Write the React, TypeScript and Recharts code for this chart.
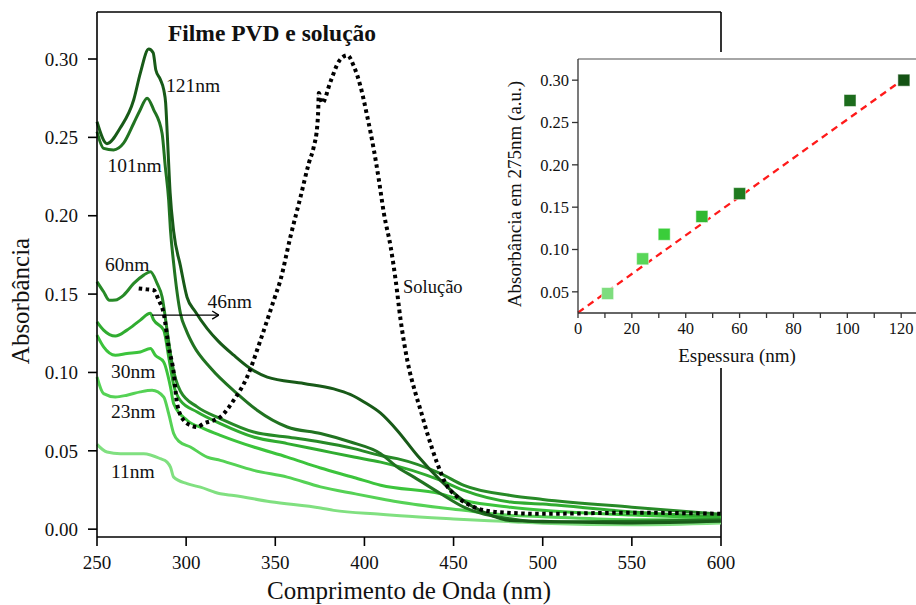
import React from "react"
import {
  LineChart,
  Line,
  XAxis,
  YAxis,
  ReferenceLine,
  ComposedChart,
  Scatter,
} from "recharts"

// wavelength (nm) / absorbance for each film thickness
const wl121 = [250, 255.6, 263, 270.6, 274.3, 279, 281.5, 283, 285.5, 287.5, 288.5, 289.5, 291, 293, 296.8, 300.5, 305, 311.8, 318, 326.7, 336, 345.5, 366, 382.8, 392, 400, 409.1, 418.4, 429.7, 442.8, 455.8, 469, 482, 500, 550, 600]
const abs121 = [0.26, 0.246, 0.256, 0.274, 0.291, 0.3064, 0.304, 0.293, 0.287, 0.28, 0.272, 0.25, 0.215, 0.19, 0.168, 0.148, 0.139, 0.128, 0.12, 0.111, 0.1025, 0.097, 0.093, 0.0895, 0.086, 0.081, 0.074, 0.063, 0.047, 0.031, 0.018, 0.0098, 0.0055, 0.005, 0.004, 0.005]

const wl101 = [250, 253.7, 259.3, 264.9, 270.6, 274, 278.1, 281.8, 286.5, 288.3, 290.2, 291.2, 293, 296.8, 300, 304.2, 313.6, 328.6, 339.8, 356.7, 375.4, 392.2, 409.1, 418.4, 427.8, 442.8, 455.8, 482, 500, 550, 600]
const abs101 = [0.2537, 0.243, 0.242, 0.2463, 0.259, 0.267, 0.275, 0.2676, 0.2527, 0.2314, 0.21, 0.191, 0.1696, 0.1377, 0.127, 0.117, 0.103, 0.0865, 0.0759, 0.0652, 0.061, 0.0556, 0.0482, 0.0396, 0.0332, 0.0226, 0.014, 0.0066, 0.0045, 0.005, 0.006]

const wl60 = [250, 253.7, 257, 260.3, 265, 270.6, 276.2, 280, 283.7, 286.5, 289.3, 292.1, 296.8, 306.2, 319.2, 337.9, 356.7, 375.4, 394.1, 409.1, 418.4, 442.8, 455.8, 482, 500, 550, 600]
const abs60 = [0.1579, 0.1515, 0.146, 0.1462, 0.1494, 0.1568, 0.1621, 0.1643, 0.1568, 0.1483, 0.127, 0.1057, 0.088, 0.078, 0.0706, 0.062, 0.0588, 0.0556, 0.0514, 0.047, 0.045, 0.0354, 0.0279, 0.0215, 0.019, 0.014, 0.0095]

const wl46 = [250, 253.7, 260.3, 266.8, 274.3, 279.9, 281.8, 287.4, 290.2, 293, 296.8, 306.2, 319.2, 337.9, 356.7, 375.4, 394.1, 409.1, 442.8, 455.8, 482, 500, 550, 600]
const abs46 = [0.1323, 0.127, 0.1232, 0.127, 0.1334, 0.1377, 0.1334, 0.127, 0.11, 0.092, 0.082, 0.0748, 0.0674, 0.0588, 0.0546, 0.0503, 0.046, 0.0428, 0.0311, 0.0247, 0.0173, 0.016, 0.011, 0.008]

const wl30 = [250, 253.7, 260.3, 266.8, 274.3, 280, 282.7, 287.4, 291.2, 293, 300.5, 309.9, 319.2, 337.9, 356.7, 375.4, 394.1, 409.1, 442.8, 455.8, 482, 500, 550, 600]
const abs30 = [0.1238, 0.1163, 0.111, 0.1121, 0.1131, 0.1153, 0.111, 0.1067, 0.0908, 0.0801, 0.0695, 0.0642, 0.0599, 0.0524, 0.046, 0.039, 0.033, 0.028, 0.0225, 0.0183, 0.014, 0.012, 0.009, 0.007]

const wl23 = [250, 253.7, 260.3, 266.8, 274.3, 280.9, 287.4, 290.2, 293, 296, 302.4, 311.8, 319.2, 337.9, 356.7, 375.4, 395, 409.1, 418.4, 455.8, 482, 500, 550, 600]
const abs23 = [0.0971, 0.0865, 0.0844, 0.0855, 0.0876, 0.0886, 0.0844, 0.0737, 0.061, 0.056, 0.0524, 0.046, 0.0439, 0.0375, 0.0332, 0.027, 0.0225, 0.0194, 0.0175, 0.012, 0.0088, 0.008, 0.006, 0.006]

const wl11 = [250, 255.6, 263.1, 276.2, 285.5, 289.3, 291.2, 293, 300.5, 308, 319.2, 326.7, 347.3, 375.4, 382.8, 409, 420, 450, 482, 500, 550, 600]
const abs11 = [0.0541, 0.0492, 0.0482, 0.0482, 0.045, 0.0428, 0.0396, 0.0332, 0.029, 0.0268, 0.0226, 0.0215, 0.0175, 0.0135, 0.012, 0.0095, 0.0085, 0.0065, 0.0048, 0.0038, 0.0028, 0.004]

const wlSol = [273.4, 278, 281.8, 284.6, 287.4, 290.2, 293, 294.9, 298.6, 302.4, 306.1, 309.9, 319.2, 326.7, 334.2, 341.7, 349.2, 352.9, 358.5, 364.2, 368.8, 371.6, 373.5, 374.1, 374.4, 376.3, 381, 385.7, 390.4, 394.1, 397.8, 401.6, 405.3, 408.1, 410.9, 414.7, 417.5, 420.3, 424, 428.7, 431.5, 435.3, 440.9, 445.6, 452.1, 461.5, 474.6, 500, 550, 600]
const absSol = [0.1536, 0.153, 0.1525, 0.1462, 0.1377, 0.1163, 0.1, 0.0801, 0.0695, 0.0663, 0.0652, 0.0674, 0.0716, 0.0823, 0.0971, 0.1206, 0.1462, 0.159, 0.1866, 0.2122, 0.2335, 0.2441, 0.2569, 0.2676, 0.2783, 0.2719, 0.2857, 0.2985, 0.3024, 0.2953, 0.2825, 0.2633, 0.242, 0.2229, 0.2016, 0.1802, 0.159, 0.1334, 0.108, 0.0865, 0.0759, 0.061, 0.0418, 0.029, 0.0205, 0.0141, 0.0109, 0.0098, 0.0105, 0.0098]

const xTicks = [250, 300, 350, 400, 450, 500, 550, 600]
const yTicks = [0, 0.05, 0.1, 0.15, 0.2, 0.25, 0.3]

// inset: absorbance at 275 nm vs film thickness
const thickness = [11, 24, 32, 46, 60, 101, 121]
const abs275 = [0.048, 0.089, 0.118, 0.139, 0.166, 0.276, 0.3]
const pointColors = ["#7edd7e", "#58d658", "#3acd3a", "#30b830", "#1f7a1f", "#1c6c1c", "#145214"]
const fitX = [0, 121]
const fitY = [0.0255, 0.3015]
const insetXTicks = [0, 10, 20, 30, 40, 50, 60, 70, 80, 90, 100, 110, 120]
const insetYTicks = [0.05, 0.1, 0.15, 0.2, 0.25, 0.3]

const zip = (xs: number[], ys: number[]) => xs.map((x, i) => ({ x, y: ys[i] }))

const series = [
  { name: "11nm", data: zip(wl11, abs11), color: "#80e080" },
  { name: "23nm", data: zip(wl23, abs23), color: "#55d255" },
  { name: "30nm", data: zip(wl30, abs30), color: "#3cc43c" },
  { name: "46nm", data: zip(wl46, abs46), color: "#30ac30" },
  { name: "60nm", data: zip(wl60, abs60), color: "#278a27" },
  { name: "101nm", data: zip(wl101, abs101), color: "#217321" },
  { name: "121nm", data: zip(wl121, abs121), color: "#185a18" },
]

const points = thickness.map((x, i) => ({ x, y: abs275[i], color: pointColors[i] }))
const fitLine = zip(fitX, fitY)

const serif = "Liberation Serif, Times New Roman, serif"

const Square = (props: any) => {
  const { cx, cy, payload } = props
  if (cx == null || cy == null) return null
  return <rect x={cx - 6} y={cy - 6} width={12} height={12} fill={payload.color} stroke="rgba(255,255,255,0.5)" strokeWidth={1} />
}

const tickStyle = (size: number) => ({ fill: "#111", fontSize: size, fontFamily: serif })

export default function App() {
  return (
    <div style={{ position: "absolute", left: 0, top: 0, width: 916, height: 605, background: "#fff", overflow: "hidden", fontFamily: serif }}>
      <LineChart width={916} height={605} margin={{ top: 12, right: 195, bottom: 8, left: 0 }} style={{ fontFamily: serif }}>
        <XAxis
          dataKey="x"
          type="number"
          domain={[250, 600]}
          ticks={xTicks}
          allowDuplicatedCategory={false}
          stroke="#000"
          strokeWidth={1.6}
          tickSize={9}
          tickMargin={10}
          height={60}
          tick={tickStyle(19)}
        />
        <YAxis
          type="number"
          domain={[-0.005, 0.33]}
          ticks={yTicks}
          tickFormatter={(v: number) => v.toFixed(2)}
          stroke="#000"
          strokeWidth={1.6}
          tickSize={9}
          tickMargin={10}
          width={97}
          tick={tickStyle(19)}
        />
        <ReferenceLine y={0.33} stroke="#000" strokeWidth={1.6} />
        <ReferenceLine x={600} stroke="#000" strokeWidth={1.6} />
        {series.map((s) => (
          <Line
            key={s.name}
            data={s.data}
            dataKey="y"
            type="monotone"
            stroke={s.color}
            strokeWidth={3}
            dot={false}
            isAnimationActive={false}
          />
        ))}
        <Line
          data={zip(wlSol, absSol)}
          dataKey="y"
          type="monotone"
          stroke="#000"
          strokeWidth={4}
          strokeDasharray="3.5 3.5"
          dot={false}
          isAnimationActive={false}
        />
        <ReferenceLine segment={[{ x: 280.9, y: 0.1366 }, { x: 318.3, y: 0.1366 }]} stroke="#000" strokeWidth={1.3} />
        <ReferenceLine segment={[{ x: 314.6, y: 0.1392 }, { x: 318.3, y: 0.1366 }]} stroke="#000" strokeWidth={1.3} />
        <ReferenceLine segment={[{ x: 314.6, y: 0.134 }, { x: 318.3, y: 0.1366 }]} stroke="#000" strokeWidth={1.3} />
      </LineChart>

      <svg width={916} height={605} style={{ position: "absolute", left: 0, top: 0, pointerEvents: "none" }}>
        <g fontFamily={serif} fill="#111">
          <text x={272} y={40.5} fontSize={23.5} fontWeight="bold" textAnchor="middle">Filme PVD e solução</text>
          <text x={166} y={91.5} fontSize={19.5}>121nm</text>
          <text x={107.5} y={171.5} fontSize={19.5}>101nm</text>
          <text x={105} y={270.5} fontSize={19.5}>60nm</text>
          <text x={207.5} y={308} fontSize={19.5}>46nm</text>
          <text x={111} y={378} fontSize={19.5}>30nm</text>
          <text x={111} y={418} fontSize={19.5}>23nm</text>
          <text x={111} y={478} fontSize={19.5}>11nm</text>
          <text x={403} y={293} fontSize={18.5}>Solução</text>
          <text x={409} y={599} fontSize={25} textAnchor="middle">Comprimento de Onda (nm)</text>
          <text transform="translate(29,301) rotate(-90)" fontSize={25} textAnchor="middle">Absorbância</text>
        </g>
      </svg>

      <div style={{ position: "absolute", left: 490, top: 52, width: 426, height: 316, background: "#fff" }}>
        <ComposedChart width={426} height={316} margin={{ top: 7, right: 0, bottom: 0, left: 0 }} style={{ fontFamily: serif }}>
          <XAxis
            dataKey="x"
            type="number"
            domain={[0, 125.5]}
            ticks={insetXTicks}
            tickFormatter={(v: number) => (v % 20 === 0 ? String(v) : "")}
            stroke="#333"
            strokeWidth={1.3}
            tickSize={5}
            tickMargin={4}
            height={55}
            tick={tickStyle(16.5)}
          />
          <YAxis
            type="number"
            domain={[0.025, 0.325]}
            ticks={insetYTicks}
            tickFormatter={(v: number) => v.toFixed(2)}
            stroke="#333"
            strokeWidth={1.3}
            tickSize={6}
            tickMargin={3}
            width={88}
            tick={tickStyle(16.5)}
          />
          <ReferenceLine y={0.325} stroke="#888" strokeWidth={1.5} />
          <Line
            data={fitLine}
            dataKey="y"
            type="linear"
            stroke="#ff1a1a"
            strokeWidth={2.3}
            strokeDasharray="7 5"
            dot={false}
            isAnimationActive={false}
          />
          <Scatter data={points} dataKey="y" shape={Square} isAnimationActive={false} />
        </ComposedChart>
        <svg width={426} height={316} style={{ position: "absolute", left: 0, top: 0, pointerEvents: "none" }}>
          <g fontFamily={serif} fill="#111" fontSize={19}>
            <text x={247} y={310} textAnchor="middle">Espessura (nm)</text>
            <text transform="translate(31,142) rotate(-90)" textAnchor="middle">Absorbância em 275nm (a.u.)</text>
          </g>
        </svg>
      </div>
    </div>
  )
}
